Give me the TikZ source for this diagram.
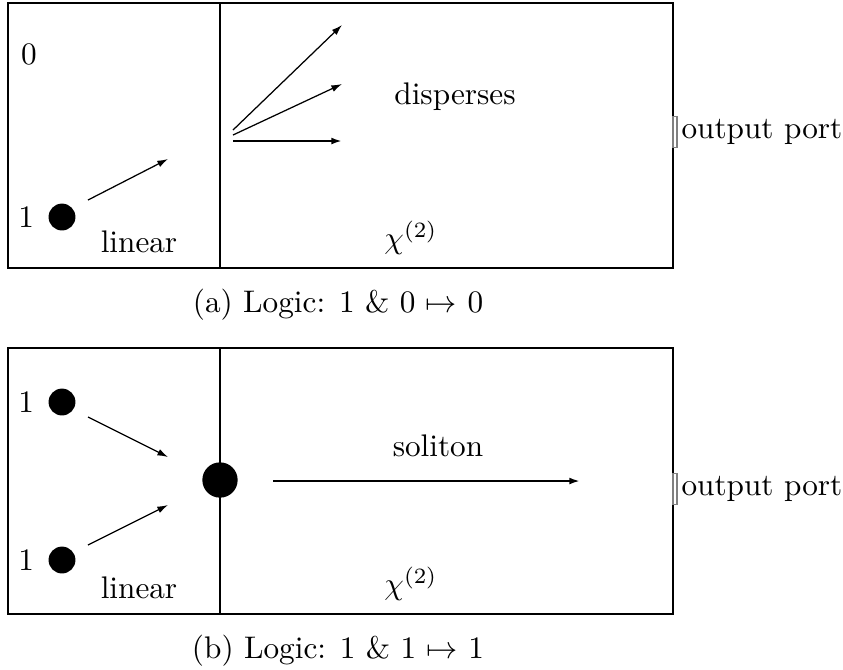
\documentclass[tikz,border=0pt]{standalone}
\usetikzlibrary{arrows.meta,positioning}
\begin{document}
\begin{tikzpicture}[x=0.32pt,y=-0.32pt,>={Latex[length=3.4pt,width=2.2pt]}]
    \tikzstyle{panel}=[draw,line width=0.9pt]
    \tikzstyle{wall}=[line width=0.65pt]
    \tikzstyle{ball}=[circle,fill=black,inner sep=0pt,minimum size=8.6pt]
    \tikzstyle{bigball}=[circle,fill=black,inner sep=0pt,minimum size=11.3pt]
    \tikzstyle{ray}=[->,line width=0.4pt]
    \tikzstyle{beam}=[->,line width=0.65pt]
    \tikzstyle{port}=[draw=gray,line width=0.5pt,inner sep=0pt,minimum width=1.3pt,minimum height=10pt]
    \useasboundingbox (0,0) rectangle (843,669);
    % (a) 1 & 0
    \draw[panel] (8,3) rectangle (673,268);
    \draw[wall] (220,3) -- (220,268);
    \node (za) at (29,54) {0};
    \node[ball] (ba) at (62,217) {};
    \node[left=0.9pt of ba] (la) {1};
    \node (lina) at (139,242) {linear};
    \node (disp) at (455,97) {disperses};
    \node (chia) at (411,238) {$\chi^{(2)}$};
    \node[port] (pa) at (675,132) {};
    \node[right=1pt of pa,inner sep=0pt] (opa) {output port};
    \node (capa) at (338,305) {(a) Logic: 1 \& 0 $\mapsto$ 0};
    \coordinate (a0) at (88,200);   \coordinate (a1) at (168,159);
    \coordinate (f0) at (233,130);  \coordinate (f1) at (342,25);
    \coordinate (g0) at (233,135);  \coordinate (g1) at (342,84);
    \coordinate (h0) at (233,141);  \coordinate (h1) at (342,141);
    \foreach \a/\b in {a0/a1,f0/f1,g0/g1} \draw[ray] (\a) -- (\b);
    \draw[beam] (h0) -- (h1);
    % (b) 1 & 1
    \draw[panel] (8,348) rectangle (673,614);
    \draw[wall] (220,348) -- (220,614);
    \node[ball] (bt) at (62,402) {};
    \node[left=0.9pt of bt] (lt) {1};
    \node[ball] (bb) at (62,560) {};
    \node[left=0.9pt of bb] (lb) {1};
    \node[bigball] (sol) at (220,480) {};
    \node (linb) at (139,588) {linear};
    \node (solt) at (438,446) {soliton};
    \node (chib) at (411,584) {$\chi^{(2)}$};
    \node[port] (pb) at (675,489) {};
    \node[right=1pt of pb,inner sep=0pt] (opb) {output port};
    \node (capb) at (338,651) {(b) Logic: 1 \& 1 $\mapsto$ 1};
    \coordinate (t0) at (88,417);   \coordinate (t1) at (168,457);
    \coordinate (u0) at (88,545);   \coordinate (u1) at (168,505);
    \coordinate (s0) at (273,481);  \coordinate (s1) at (580,481);
    \foreach \a/\b in {t0/t1,u0/u1} \draw[ray] (\a) -- (\b);
    \draw[beam] (s0) -- (s1);
\end{tikzpicture}
\end{document}
